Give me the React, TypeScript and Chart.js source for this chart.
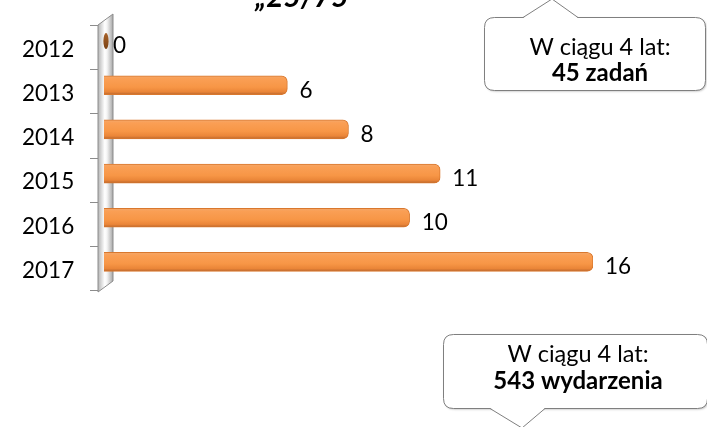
import React, { useEffect, useRef } from 'react';
import { Chart, registerables } from 'chart.js';

Chart.register(...registerables);

const years = ['2012', '2013', '2014', '2015', '2016', '2017'];
const tasks = [0, 6, 8, 11, 10, 16];
const titleText = '„25/75';
const topCallout = ['W ciągu 4 lat:', '45 zadań'];
const bottomCallout = ['W ciągu 4 lat:', '543 wydarzenia'];

const FONT = 'Lato, "Open Sans", sans-serif';

function roundRectPath(ctx: CanvasRenderingContext2D, x: number, y: number, w: number, h: number, r: number) {
  ctx.moveTo(x + r, y);
  ctx.lineTo(x + w - r, y);
  ctx.quadraticCurveTo(x + w, y, x + w, y + r);
  ctx.lineTo(x + w, y + h - r);
  ctx.quadraticCurveTo(x + w, y + h, x + w - r, y + h);
  ctx.lineTo(x + r, y + h);
  ctx.quadraticCurveTo(x, y + h, x, y + h - r);
  ctx.lineTo(x, y + r);
  ctx.quadraticCurveTo(x, y, x + r, y);
}

const decor = {
  id: 'decor',
  beforeDatasetsDraw(chart: any) {
    const { ctx, chartArea } = chart;
    const yS = chart.scales.y;
    const xL = chartArea.left - 6;
    const dx = 15;
    const dy = 11;
    const top = chartArea.top + 6;
    const bottom = chartArea.bottom + 8;
    ctx.save();
    const g = ctx.createLinearGradient(xL, 0, xL + dx, 0);
    g.addColorStop(0, '#b4b4b4');
    g.addColorStop(0.45, '#ffffff');
    g.addColorStop(0.6, '#f4f4f4');
    g.addColorStop(1, '#a6a6a6');
    ctx.beginPath();
    ctx.moveTo(xL, top);
    ctx.lineTo(xL + dx, top - dy);
    ctx.lineTo(xL + dx, bottom - dy);
    ctx.lineTo(xL, bottom);
    ctx.closePath();
    ctx.fillStyle = g;
    ctx.fill();
    ctx.strokeStyle = '#8c8c8c';
    ctx.lineWidth = 1;
    ctx.stroke();
    ctx.beginPath();
    const n = years.length;
    for (let i = 0; i <= n; i++) {
      const yy = Math.round(yS.getPixelForValue(i - 0.5) + 6) + 0.5;
      ctx.moveTo(xL - 8, yy);
      ctx.lineTo(xL, yy);
    }
    ctx.strokeStyle = '#8c8c8c';
    ctx.stroke();
    ctx.restore();
  },
  afterDatasetsDraw(chart: any) {
    const { ctx } = chart;
    const meta = chart.getDatasetMeta(0);
    ctx.save();
    meta.data.forEach((bar: any, i: number) => {
      const v = tasks[i];
      if (v === 0) {
        ctx.beginPath();
        ctx.ellipse(bar.x + 2, bar.y, 2.6, 8, 0, 0, Math.PI * 2);
        const gg = ctx.createLinearGradient(0, bar.y - 8, 0, bar.y + 8);
        gg.addColorStop(0, '#a8622a');
        gg.addColorStop(1, '#7a4214');
        ctx.fillStyle = gg;
        ctx.fill();
      }
      ctx.fillStyle = '#000';
      ctx.font = `22.5px ${FONT}`;
      ctx.textAlign = 'left';
      ctx.textBaseline = 'middle';
      ctx.fillText(String(v), bar.x + (v === 0 ? 9 : 12), bar.y + 5);
    });
    ctx.restore();
  },
  afterDraw(chart: any) {
    const { ctx } = chart;
    ctx.save();
    ctx.fillStyle = '#000';
    ctx.font = `italic bold 30px ${FONT}`;
    ctx.textAlign = 'center';
    ctx.textBaseline = 'alphabetic';
    ctx.fillText(titleText, 302, 7);

    ctx.beginPath();
    roundRectPath(ctx, 484.5, 17.5, 221, 73, 10);
    ctx.fillStyle = '#fff';
    ctx.shadowColor = 'rgba(0,0,0,0.25)';
    ctx.shadowOffsetX = 1;
    ctx.shadowOffsetY = 1;
    ctx.shadowBlur = 2;
    ctx.fill();
    ctx.shadowColor = 'transparent';
    ctx.strokeStyle = '#7f7f7f';
    ctx.lineWidth = 1;
    ctx.stroke();
    ctx.beginPath();
    ctx.moveTo(523, 18);
    ctx.lineTo(552, -1);
    ctx.lineTo(578, 18);
    ctx.closePath();
    ctx.fillStyle = '#fff';
    ctx.fill();
    ctx.beginPath();
    ctx.moveTo(523, 17.5);
    ctx.lineTo(552, -1);
    ctx.lineTo(578, 17.5);
    ctx.stroke();

    ctx.fillStyle = '#000';
    ctx.textBaseline = 'middle';
    ctx.textAlign = 'center';
    ctx.font = `23.5px ${FONT}`;
    ctx.fillText(topCallout[0], 600, 47);
    ctx.font = `bold 24px ${FONT}`;
    ctx.fillText(topCallout[1], 600, 73);

    ctx.beginPath();
    roundRectPath(ctx, 443.5, 334.5, 264, 74, 10);
    ctx.fillStyle = '#fff';
    ctx.shadowColor = 'rgba(0,0,0,0.25)';
    ctx.shadowOffsetX = 1;
    ctx.shadowOffsetY = 1;
    ctx.shadowBlur = 2;
    ctx.fill();
    ctx.shadowColor = 'transparent';
    ctx.strokeStyle = '#7f7f7f';
    ctx.stroke();
    ctx.beginPath();
    ctx.moveTo(490, 408);
    ctx.lineTo(522, 428);
    ctx.lineTo(545, 408);
    ctx.closePath();
    ctx.fillStyle = '#fff';
    ctx.fill();
    ctx.beginPath();
    ctx.moveTo(490, 408.5);
    ctx.lineTo(522, 428);
    ctx.lineTo(545, 408.5);
    ctx.stroke();

    ctx.fillStyle = '#000';
    ctx.font = `23.5px ${FONT}`;
    ctx.fillText(bottomCallout[0], 578, 354);
    ctx.font = `bold 24px ${FONT}`;
    ctx.fillText(bottomCallout[1], 578, 381);
    ctx.restore();
  },
};

export default function App() {
  const ref = useRef<HTMLCanvasElement | null>(null);
  useEffect(() => {
    document.body.style.margin = '0';
    const canvas = ref.current;
    if (!canvas) return;
    const chart = new Chart(canvas, {
      type: 'bar',
      data: {
        labels: years,
        datasets: [
          {
            data: tasks,
            barThickness: 19,
            backgroundColor: (c: any) => {
              const ch = c.chart;
              const ys = ch.scales && ch.scales.y;
              if (!ys || c.dataIndex === undefined) return '#F79646';
              const y = ys.getPixelForValue(c.dataIndex);
              if (!Number.isFinite(y)) return '#F79646';
              const g = ch.ctx.createLinearGradient(0, y - 9.5, 0, y + 9.5);
              g.addColorStop(0, '#f3a86c');
              g.addColorStop(0.15, '#fa9f55');
              g.addColorStop(0.6, '#f79646');
              g.addColorStop(0.85, '#ea8538');
              g.addColorStop(1, '#b8652c');
              return g;
            },
            borderColor: '#d9782e',
            borderWidth: 1,
            borderRadius: 6,
            borderSkipped: 'start',
          } as any,
        ],
      },
      options: {
        indexAxis: 'y',
        responsive: false,
        animation: false,
        layout: { padding: { top: 19, bottom: 143, left: 22, right: 114 } },
        plugins: { legend: { display: false }, tooltip: { enabled: false }, title: { display: false } },
        scales: {
          x: { display: false, min: 0, max: 16 },
          y: {
            type: 'category',
            grid: { display: false, drawTicks: false },
            border: { display: false },
            ticks: {
              padding: 0,
              crossAlign: 'far',
              labelOffset: 8.5,
              color: '#000',
              font: { family: FONT, size: 22.5 },
            },
            afterFit: (scale: any) => {
              scale.width = 82;
              scale.paddingTop = 0;
              scale.paddingBottom = 0;
            },
          },
        },
      } as any,
      plugins: [decor],
    });
    return () => chart.destroy();
  }, []);
  return (
    <div style={{ width: 707, height: 427, position: 'relative', background: '#fff' }}>
      <canvas ref={ref} width={707} height={427} style={{ display: 'block' }} />
    </div>
  );
}
